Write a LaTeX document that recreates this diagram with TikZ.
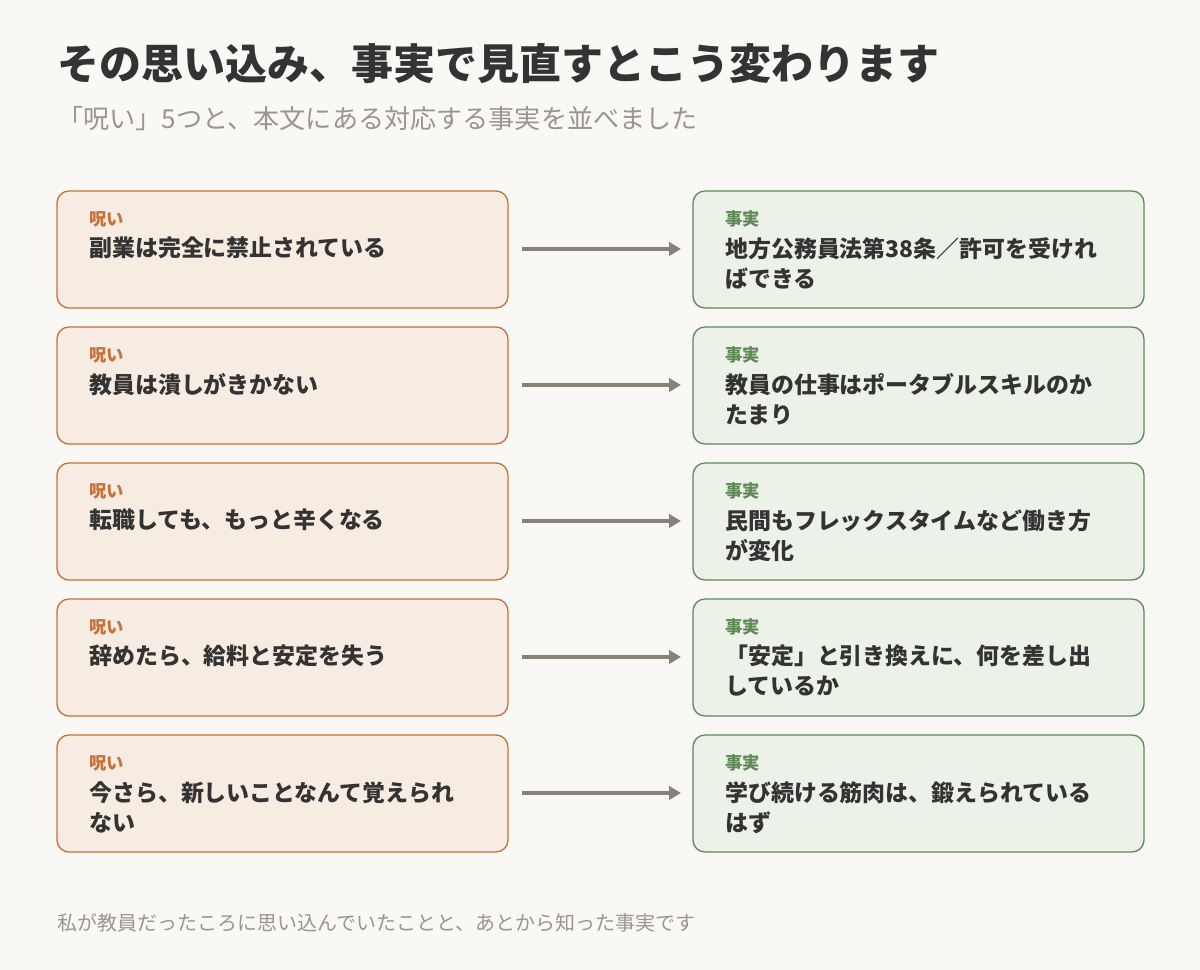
\documentclass[tikz,border=0pt]{standalone}
\usepackage{fontspec}
\setmainfont{Noto Sans CJK JP}
\usetikzlibrary{arrows.meta}
\definecolor{bg}{HTML}{F9F8F4}
\definecolor{lfill}{HTML}{F6ECE1}
\definecolor{lline}{HTML}{C8703A}
\definecolor{rfill}{HTML}{EDF2E8}
\definecolor{rline}{HTML}{5E8A55}
\definecolor{arr}{HTML}{878276}
\definecolor{ink}{HTML}{333333}
\definecolor{sub}{HTML}{9A968E}
\begin{document}
\begin{tikzpicture}[x=0.75pt,y=-0.75pt,
  lbox/.style={draw=lline,fill=lfill,line width=1pt,rounded corners=9pt},
  rbox/.style={draw=rline,fill=rfill,line width=1pt,rounded corners=9pt},
  ltag/.style={anchor=base west,inner sep=0,text=lline,font=\fontsize{13}{15}\selectfont\bfseries},
  rtag/.style={anchor=base west,inner sep=0,text=rline,font=\fontsize{13}{15}\selectfont\bfseries},
  main/.style={anchor=north west,inner sep=0,text=ink,align=left,font=\fontsize{17.2}{22.5}\selectfont\bfseries},
  conn/.style={draw=arr,line width=3pt,-{Triangle[length=9pt,width=10pt]}}]
\fill[bg] (0,0) rectangle (1200,970);
\node[anchor=base west,inner sep=0,text=ink,font=\fontsize{31.5}{36}\selectfont\bfseries] (title) at (57,80) {その思い込み、事実で見直すとこう変わります};
\node[anchor=base west,inner sep=0,text=sub,font=\fontsize{19.6}{23}\selectfont] (subt) at (57,129) {「呪い」5つと、本文にある対応する事実を並べました};
\node[anchor=base west,inner sep=0,text=sub,font=\fontsize{15}{18}\selectfont] (foot) at (57,930) {私が教員だったころに思い込んでいたことと、あとから知った事実です};
\foreach \i/\l/\r [count=\k from 0] in {
 1/{副業は完全に禁止されている}/{地方公務員法第38条／許可を受けれ\\ばできる},
 2/{教員は潰しがきかない}/{教員の仕事はポータブルスキルのか\\たまり},
 3/{転職しても、もっと辛くなる}/{民間もフレックスタイムなど働き方\\が変化},
 4/{辞めたら、給料と安定を失う}/{「安定」と引き換えに、何を差し出\\しているか},
 5/{今さら、新しいことなんて覚えられ\\ない}/{学び続ける筋肉は、鍛えられている\\はず}}{
 \pgfmathsetmacro{\t}{191+136*\k}
 \draw[lbox] (57,\t) rectangle (508,\t+117);
 \draw[rbox] (693,\t) rectangle (1144,\t+117);
 \node[ltag] (lt\i) at (89,\t+34) {呪い};
 \node[main] (lm\i) at (89,\t+46) {\l};
 \node[rtag] (rt\i) at (725,\t+34) {事実};
 \node[main] (rm\i) at (725,\t+46) {\r};
 \coordinate (a\i) at (522,\t+58);
 \coordinate (b\i) at (681,\t+58);
 \draw[conn] (a\i) -- (b\i);
}
\end{tikzpicture}
\end{document}
